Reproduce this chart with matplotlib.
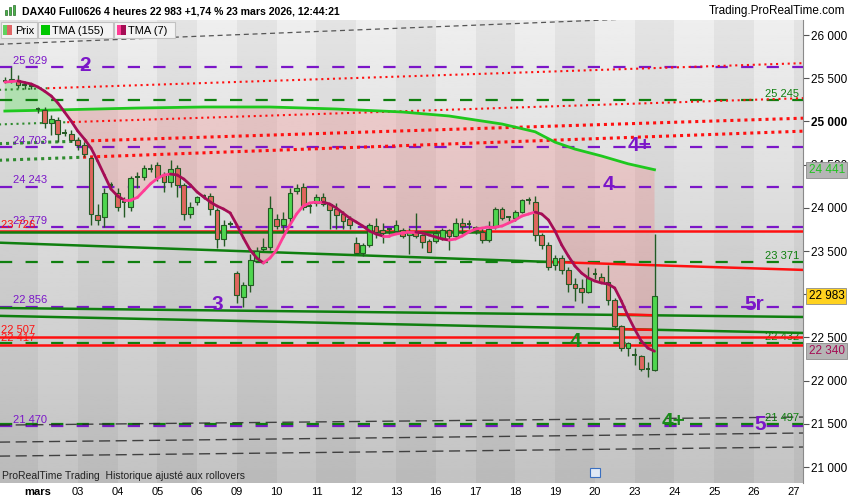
import numpy as np
import matplotlib
matplotlib.use('Agg')
import matplotlib.pyplot as plt
from matplotlib.patches import Rectangle
from matplotlib.collections import LineCollection

plt.rcParams['font.family'] = ['Liberation Sans', 'DejaVu Sans']

# ---- data (4h bars, bar 0 = last bars of Feb 27) ----
day_labels = ['mars', '03', '04', '05', '06', '09', '10', '11', '12', '13',
              '16', '17', '18', '19', '20', '23', '24', '25', '26', '27']
day_starts = [5 + 6 * i for i in range(len(day_labels))]

opens = [25480, 25470, 25480, 25420, 25420, 25150, 25130, 24985, 25020, 24880,
         24860, 24780, 24730, 24580, 23920, 23895, 24260, 24170, 24070, 24010,
         24350, 24360, 24440, 24500, 24380, 24300, 24460, 24260, 23930, 24070,
         24130, 24140, 23980, 23640, 23810, 23250, 22970, 23110, 23390, 23520,
         23550, 23870, 23800, 23880, 24190, 24240, 24010, 24060, 24130, 24040,
         23990, 23930, 23870, 23590, 23480, 23570, 23790, 23740, 23740, 23730,
         23740, 23680, 23720, 23680, 23620, 23620, 23650, 23740, 23670, 23830,
         23800, 23780, 23720, 23630, 23780, 23990, 23880, 23880, 23950, 24080,
         24070, 23680, 23570, 23340, 23420, 23280, 23120, 23070, 23030, 23220,
         23200, 23140, 22930, 22630, 22380, 22300, 22280, 22130, 22120]
highs = [25520, 25629, 25540, 25450, 25440, 25170, 25170, 25070, 25050, 24910,
         24900, 24820, 24760, 24590, 24050, 24230, 24300, 24230, 24120, 24370,
         24410, 24490, 24510, 24530, 24410, 24550, 24500, 24290, 24070, 24140,
         24160, 24170, 24000, 23860, 23850, 23270, 23140, 23470, 23550, 23650,
         24140, 23930, 23950, 24230, 24280, 24290, 24060, 24160, 24170, 24060,
         24060, 23960, 23900, 23660, 23590, 23830, 23880, 23820, 23770, 23860,
         23770, 23770, 23940, 23700, 23640, 23740, 23770, 23750, 23880, 23880,
         23860, 23790, 23770, 23850, 24010, 24010, 23910, 23970, 24100, 24130,
         24140, 23710, 23600, 23450, 23450, 23310, 23190, 23180, 23310, 23300,
         23240, 23340, 22960, 22640, 22450, 22380, 22300, 22220, 23700]
lows = [25440, 25440, 25390, 25380, 25380, 25100, 24920, 24840, 24760, 24830,
        24760, 24670, 24590, 23800, 23800, 23780, 24230, 23960, 23890, 23960,
        24230, 24320, 24420, 24310, 24180, 24240, 24130, 23860, 23880, 24030,
        24100, 23920, 23530, 23560, 23790, 22900, 22856, 23030, 23370, 23500,
        23510, 23750, 23720, 23830, 24160, 23975, 23940, 24020, 24020, 23750,
        23750, 23750, 23750, 23480, 23440, 23550, 23650, 23590, 23700, 23700,
        23650, 23470, 23650, 23530, 23490, 23590, 23630, 23510, 23650, 23700,
        23760, 23700, 23590, 23600, 23760, 23860, 23850, 23850, 23940, 24050,
        23620, 23520, 23280, 23280, 23230, 23030, 22920, 22900, 23010, 23180,
        23130, 22870, 22610, 22340, 22280, 22180, 22110, 22040, 22110]
closes = [25470, 25495, 25420, 25425, 25410, 25140, 24985, 25030, 24860, 24870,
          24780, 24730, 24620, 23930, 23860, 24170, 24265, 24010, 24070, 24340,
          24355, 24460, 24445, 24355, 24300, 24450, 24260, 23930, 24010, 24120,
          24140, 23990, 23640, 23800, 23815, 22990, 23110, 23400, 23500, 23550,
          24000, 23790, 23870, 24170, 24230, 24010, 24020, 24120, 24040, 23980,
          23920, 23850, 23800, 23480, 23570, 23800, 23720, 23710, 23750, 23800,
          23670, 23720, 23670, 23610, 23490, 23710, 23740, 23670, 23820, 23790,
          23810, 23740, 23630, 23760, 23990, 23880, 23890, 23950, 24090, 24085,
          23690, 23570, 23310, 23420, 23280, 23120, 23070, 23030, 23190, 23230,
          23140, 22930, 22630, 22380, 22430, 22300, 22140, 22130, 22983]

tma7 = [25456, 25462, 25468, 25450, 25433, 25398, 25350, 25294, 25213, 25109,
        25005, 24889, 24796, 24692, 24542, 24380, 24218, 24137, 24090, 24090,
        24120, 24200, 24280, 24340, 24380, 24391, 24380, 24333, 24264, 24183,
        24125, 24067, 24021, 23986, 23940, 23801, 23650, 23512, 23419, 23361,
        23419, 23512, 23662, 23801, 23928, 24021, 24056, 24067, 24067, 24044,
        23998, 23940, 23882, 23836, 23789, 23731, 23697, 23674, 23674, 23697,
        23708, 23720, 23720, 23708, 23685, 23662, 23639, 23627, 23639, 23674,
        23720, 23755, 23766, 23778, 23778, 23789, 23824, 23859, 23905, 23928,
        23951, 23928, 23859, 23731, 23570, 23442, 23326, 23245, 23188, 23153,
        23130, 23118, 23072, 22921, 22748, 22597, 22458, 22377, 22340]

tma155_bars = [0, 9, 20, 30, 40, 50, 60, 67, 75, 80, 83, 86, 90, 94, 98]
tma155 = [25120, 25135, 25155, 25167, 25167, 25144, 25109, 25063, 24970,
          24880, 24760, 24680, 24600, 24510, 24441]

purple_levels = [25629, 24703, 24243, 23779, 22856, 21470]
green_levels = [25245, 23371, 22432, 21497]
red_levels = [23726, 22507, 22417]

# dotted trend lines: (green part, red part) as end points (bar, price)
dotted = [
    ([(-1, 25365), (6.4, 25384)], [(6.4, 25384), (121, 25676)], 'small'),
    ([(-1, 24965), (9.4, 24991)], [(9.4, 24991), (121, 25271)], 'small'),
    ([(-1, 24742), (10.9, 24771)], [(10.9, 24771), (121, 25039)], 'big'),
    ([(-1, 24550), (11.8, 24586)], [(11.8, 24586), (121, 24889)], 'big'),
]
green_trend = [[(-1, 23597), (82.5, 23373)],
               [(-1, 22841), (121, 22736)],
               [(-1, 22750), (121, 22551)],
               [(-1, 23722), (72, 23722)]]
red_trend = [[(82.5, 23373), (121, 23280)],
             [(92, 22770), (98, 22756)],
             [(92.8, 22596), (98, 22587)]]
black_dashed = [[(-1, 21485), (121, 21579)],
                [(-1, 21288), (121, 21394)],
                [(-1, 21126), (121, 21232)]]
gray_top = [(-1, 25893), (121, 26268)]

big_labels = [('2', 12.1, 25629, '#7b16c8'), ('4+', 95.8, 24703, '#7b16c8'),
              ('4', 91.0, 24243, '#7b16c8'), ('3', 32.0, 22856, '#7b16c8'),
              ('5r', 113.1, 22856, '#7b16c8'), ('5', 113.9, 21470, '#7b16c8'),
              ('4', 86.0, 22432, '#1a8a1a'), ('4+', 100.8, 21497, '#1a8a1a')]

PURPLE = '#7b16c8'
DGREEN = '#0f7f0f'
RED = '#ff1010'


def fmt(v):
    return f"{v:,}".replace(',', ' ')


fig = plt.figure(figsize=(8.5, 5), dpi=100)
ax = fig.add_axes([0, 17 / 500, 803 / 850, 463 / 500])
x0, x1 = -0.73, 120.4
y0, y1 = 20815, 26174
ax.set_xlim(x0, x1)
ax.set_ylim(y0, y1)

# background gradient + day bands
grad = np.linspace(0.935, 0.765, 200)[:, None]
ax.imshow(grad, extent=[x0, x1, y0, y1], aspect='auto', cmap='gray',
          vmin=0, vmax=1, origin='upper', zorder=0)
for i in range(-1, len(day_labels)):
    if i % 2:
        s = 5 + 6 * i
        ax.axvspan(s, s + 6, color='black', alpha=0.045, lw=0, zorder=0.5)

# cloud between the two averages
kk = np.arange(len(tma7))
gpoly = [(k, tma7[k]) for k in range(0, 10)] + [(9, 25135), (0, 25120)]
ax.fill([p[0] for p in gpoly], [p[1] for p in gpoly], color='#5ee85e',
        alpha=0.35, lw=0, zorder=1)
ppoly = [(k, tma7[k]) for k in range(9, len(tma7))] + \
        list(zip(tma155_bars[::-1], tma155[::-1]))[:-1]
ax.fill([p[0] for p in ppoly], [p[1] for p in ppoly], color='#ff5a5a',
        alpha=0.2, lw=0, zorder=1)

# horizontal levels
for lv in purple_levels:
    ax.axhline(lv, color=PURPLE, lw=1.6, linestyle=(0, (5.5, 6)), zorder=2)
for lv in green_levels:
    ax.axhline(lv, color=DGREEN, lw=1.6, linestyle=(0, (5.5, 6)), zorder=2)
for lv in red_levels:
    ax.axhline(lv, color=RED, lw=1.8, zorder=3)

# dotted lines
for gpart, rpart, size in dotted:
    lw, ls = (1.5, (0, (1, 1.8))) if size == 'small' else (2.2, (0, (1, 1.3)))
    ax.plot(*zip(*gpart), color='#2e8b2e', lw=lw, linestyle=ls, zorder=2)
    ax.plot(*zip(*rpart), color=RED, lw=lw, linestyle=ls, zorder=2)

for seg in black_dashed:
    ax.plot(*zip(*seg), color='#2a2a2a', lw=1.0, linestyle=(0, (8, 4)),
            alpha=0.85, zorder=2)
ax.plot(*zip(*gray_top), color='#555555', lw=0.9, linestyle=(0, (4, 3)), zorder=2)

for seg in green_trend:
    ax.plot(*zip(*seg), color=DGREEN, lw=1.8, zorder=3)
for seg in red_trend:
    ax.plot(*zip(*seg), color=RED, lw=1.8, zorder=3)

# TMA 155
ax.plot(tma155_bars, tma155, color='#1ec81e', lw=2, zorder=3.5)

# candles
wick = '#245a24'
for k in kk:
    o, h, l, c = opens[k], highs[k], lows[k], closes[k]
    ax.vlines(k, l, h, color=wick, lw=1, zorder=4)
    if abs(c - o) < 12:
        ax.hlines(c, k - 0.35, k + 0.35, color=wick, lw=1.4, zorder=4.1)
    else:
        fc = '#4fd64f' if c > o else '#e0665e'
        ax.add_patch(Rectangle((k - 0.36, min(o, c)), 0.72, abs(c - o),
                               fc=fc, ec=wick, lw=0.8, zorder=4.1))

# TMA 7 coloured by slope
pts = np.column_stack([kk, tma7])
segs = np.stack([pts[:-1], pts[1:]], axis=1)
cols = ['#ff3d96' if b >= a else '#a50d55' for a, b in zip(tma7[:-1], tma7[1:])]
ax.add_collection(LineCollection(segs, colors=cols, linewidths=2, zorder=5,
                                 capstyle='round'))

# level labels
for lv in purple_levels:
    ax.annotate(fmt(lv), (1.2, lv), xytext=(0, 1), textcoords='offset points',
                fontsize=8, color=PURPLE, va='bottom', ha='left', zorder=6)
for lv in red_levels:
    ax.annotate(fmt(lv), (-0.55, lv), xytext=(0, 1), textcoords='offset points',
                fontsize=8, color=RED, va='bottom', ha='left', zorder=6)
for lv in green_levels:
    ax.annotate(fmt(lv), (119.8, lv), xytext=(0, 1), textcoords='offset points',
                fontsize=8, color=DGREEN, va='bottom', ha='right', zorder=2.5)
for txt, xk, lv, col in big_labels:
    ax.annotate(txt, (xk, lv), xytext=(0, 1.5), textcoords='offset points',
                fontsize=15, fontweight='bold', color=col, ha='center',
                va='center', zorder=6)

# axes styling
for s in ['left', 'top', 'bottom']:
    ax.spines[s].set_visible(False)
ax.spines['right'].set_color('#8a8a8a')
ax.yaxis.tick_right()
yt = list(range(21000, 26001, 500))
ax.set_yticks(yt)
# 23 000 sits under the last-price tag in the original, so it is left blank
ax.set_yticklabels(['' if v == 23000 else fmt(v) for v in yt])
ax.tick_params(axis='y', length=4, color='#555555', labelsize=8.5, pad=2)
for lab in ax.get_yticklabels():
    if lab.get_text() == '25 000':
        lab.set_fontweight('bold')
ax.set_xticks(day_starts)
ax.set_xticklabels(day_labels)
ax.tick_params(axis='x', length=0, labelsize=8, pad=3)
ax.get_xticklabels()[0].set_fontweight('bold')

# price tags on the right scale
tags = [(24441, '#22c322', '#b5b5b5'), (closes[-1], 'black', '#ffd21f'),
        (tma7[-1], '#a50d55', '#b5b5b5')]
for v, tc, bc in tags:
    ax.annotate(fmt(v), (1.0, v), xycoords=('axes fraction', 'data'),
                xytext=(4, 0), textcoords='offset points', fontsize=8.5,
                color=tc, va='center', ha='left', annotation_clip=False,
                bbox=dict(boxstyle='square,pad=0.18', fc=bc, ec='#8c8c8c', lw=0.6),
                zorder=7)

# overlay: header, legend boxes, footer
ov = fig.add_axes([0, 0, 1, 1])
ov.set_xlim(0, 850)
ov.set_ylim(500, 0)
ov.axis('off')
ov.set_zorder(10)
ov.patch.set_alpha(0)
ov.text(22, 11, 'DAX40 Full0626 4 heures 22 983 +1,74 % 23 mars 2026, 12:44:21',
        fontsize=7.6, fontweight='bold', va='center', ha='left')
ov.text(845, 11, 'Trading.ProRealTime.com', fontsize=8.5, va='center', ha='right')
for bx, bh, bc in [(5, 5, '#49b649'), (9, 8, '#49b649'), (13, 10, '#49b649')]:
    ov.add_patch(Rectangle((bx, 15 - bh), 2.5, bh, fc=bc, ec='#2a6a2a', lw=0.5))

for bx, w, label in [(1, 36, 'Prix'), (38, 75, 'TMA (155)'), (114, 61, 'TMA (7)')]:
    ov.add_patch(Rectangle((bx, 22), w, 16, fc='#f3f3f3', ec='#c2c2c2', lw=0.8))
    ov.text(bx + 14, 30.5, label, fontsize=8, va='center', ha='left')
ov.add_patch(Rectangle((3, 25), 4.5, 10, fc='#5fd25f', lw=0))
ov.add_patch(Rectangle((7.5, 25), 4.5, 10, fc='#e06666', lw=0))
ov.add_patch(Rectangle((41, 25), 9, 10, fc='#00c800', lw=0))
ov.add_patch(Rectangle((117, 25), 4.5, 10, fc='#ff3d96', lw=0))
ov.add_patch(Rectangle((121.5, 25), 4.5, 10, fc='#a50d55', lw=0))

ov.text(2, 476, 'ProRealTime Trading  Historique ajusté aux rollovers',
        fontsize=7.5, color='#222222', va='center', ha='left')
ov.add_patch(Rectangle((590, 468), 10, 9, fc='#dfe8f5', ec='#3a6fc0', lw=0.8))

fig.savefig('out.png', dpi=100)
